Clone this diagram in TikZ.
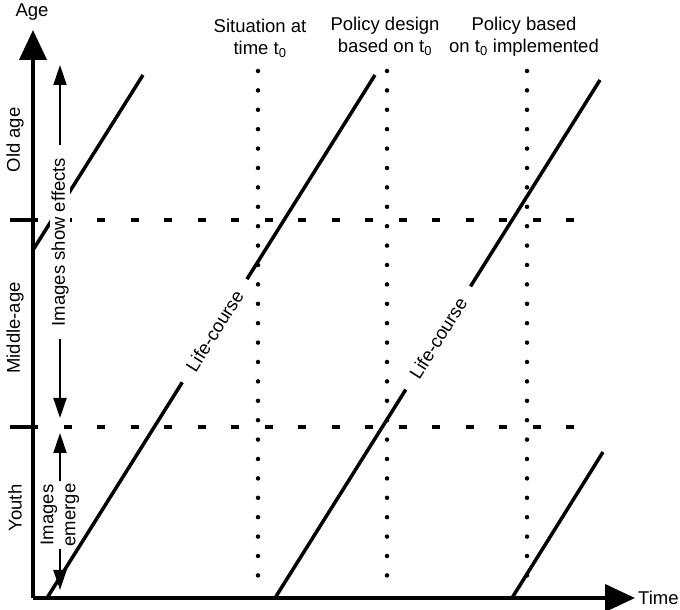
\documentclass[tikz,border=0pt]{standalone}
\usepackage{fontspec}
\setmainfont{Liberation Sans}
\usetikzlibrary{arrows.meta, positioning}

\begin{document}
\begin{tikzpicture}[x=1pt, y=1pt,
		font=\fontsize{18.5}{22}\selectfont,
		axis/.style={line width=4pt, -{Triangle[length=30pt,width=27pt]}},
		agetick/.style={line width=4pt},
		stageline/.style={line width=4pt, dash pattern=on 8pt off 25.5pt},
		timeline/.style={line width=4.5pt, line cap=round, dash pattern=on 0pt off 19.4pt},
		lifecourse/.style={line width=3.5pt},
		courselabel/.style={sloped, fill=white, inner xsep=15pt, inner ysep=2pt},
		spanarrow/.style={line width=2pt, -{Triangle[length=20pt,width=13pt]}},
		stagelabel/.style={rotate=90}
		]
		\useasboundingbox (-33,-12) rectangle (647,598);

		% axes
		\coordinate (O) at (0,0);
		\coordinate (agetip) at (0,568);
		\coordinate (timetip) at (602,0);
		\draw[axis] (O) -- (agetip);
		\draw[axis] (O) -- (timetip);
		\node (agelbl) at (-1,586) {Age};
		\node[anchor=west, inner sep=3pt] (timelbl) at (timetip) {Time};

		% stage boundaries
		\draw[agetick] (-23,171) -- (5,171);
		\draw[agetick] (-23,378) -- (5,378);
		\draw[stageline] (30.5,171) -- (545,171);
		\draw[stageline] (30.5,378) -- (545,378);

		% moments in time
		\draw[timeline] (225,527) -- (225,22);
		\draw[timeline] (354,527) -- (354,22);
		\draw[timeline] (494,527) -- (494,22);
		\node[align=center] (sit) at (227,559.5) {Situation at\\time t\textsubscript{0}};
		\node[align=center] (design) at (352,562) {Policy design\\based on t\textsubscript{0}};
		\node[align=center] (impl) at (491,561) {Policy based\\on t\textsubscript{0} implemented};

		% life-courses
		\draw[lifecourse] (0,348) -- (110,523);
		\draw[lifecourse] (14,0) -- node[courselabel, pos=0.511] {Life-course} (342,523);
		\draw[lifecourse] (242,0) -- node[courselabel, pos=0.502] {Life-course} (567,518);
		\draw[lifecourse] (479,0) -- (570,146);

		% stages of life
		\node[stagelabel] (old) at (-18,458) {Old age};
		\node[stagelabel] (middle) at (-18,270) {Middle-age};
		\node[stagelabel] (youth) at (-18,90) {Youth};

		% images
		\coordinate (efftop) at (27,533);
		\coordinate (effbot) at (27,180);
		\node[stagelabel, fill=white, inner xsep=13pt, inner ysep=1pt] (effects) at (27,356) {Images show effects};
		\draw[spanarrow] (effects) -- (efftop);
		\draw[spanarrow] (effects) -- (effbot);
		\coordinate (emtop) at (27,165);
		\coordinate (embot) at (27,8);
		\node[stagelabel, align=center, inner xsep=2pt, inner ysep=0pt] (emerge) at (27,83) {Images\\emerge};
		\draw[spanarrow] (emerge) -- (emtop);
		\draw[spanarrow] (emerge) -- (embot);
	\end{tikzpicture}
\end{document}
